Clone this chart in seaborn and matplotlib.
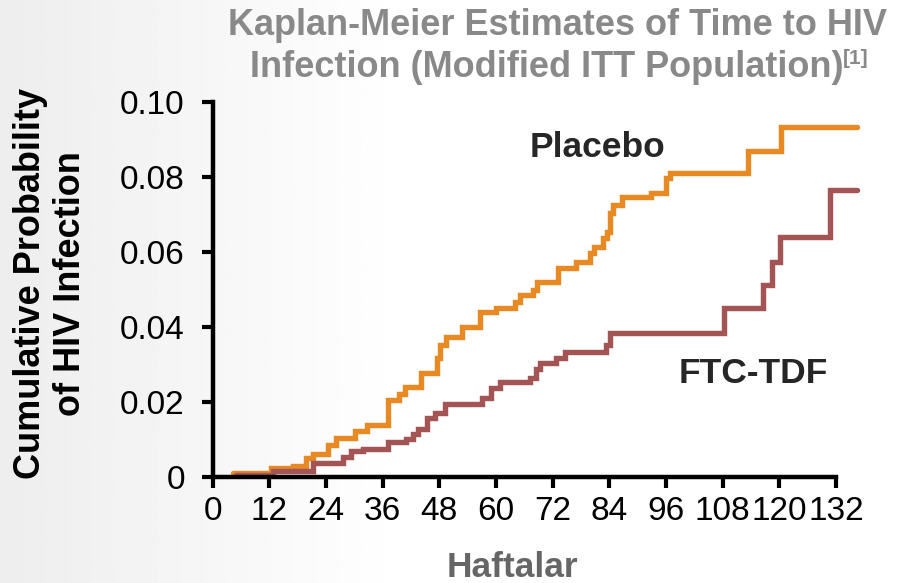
import numpy as np
import pandas as pd
import matplotlib
matplotlib.use("Agg")
import matplotlib.pyplot as plt
import seaborn as sns

# values (weeks, cumulative probability)
placebo_weeks = [4.3, 12.4, 17, 19.8, 21.3, 24.4, 26.2, 30.1, 32.6, 37.1,
                 39.5, 40.7, 44.2, 47.5, 48.1, 49.5, 52.7, 56.6, 60.1, 64,
                 65, 67.9, 68.7, 73.2, 76.9, 80, 80.7, 82.7, 83.4, 84.1,
                 84.8, 86.6, 92.9, 95.9, 96.8, 113.4, 120.3, 136.4]
placebo_prob = [0.001, 0.0023, 0.003, 0.005, 0.006, 0.0085, 0.0103, 0.0123, 0.0139, 0.0205,
                0.022, 0.024, 0.0277, 0.0316, 0.0352, 0.0374, 0.0399, 0.0441, 0.045, 0.0467,
                0.0485, 0.0499, 0.0521, 0.0558, 0.0574, 0.0596, 0.0614, 0.0636, 0.0654, 0.0703,
                0.0725, 0.0746, 0.0757, 0.0796, 0.0812, 0.087, 0.0934, 0.0934]

ftc_weeks = [4.9, 12.8, 21.3, 27.6, 29.4, 31.8, 37.1, 41, 42.4, 43.5,
             45.3, 47, 49.2, 57.1, 59, 60.8, 67.2, 68.4, 69.3, 72.7,
             74.6, 83.3, 84.1, 108.3, 116.6, 118.4, 120.1, 130.7, 136.4]
ftc_prob = [0.0005, 0.0017, 0.0038, 0.0054, 0.0068, 0.0074, 0.0092, 0.0101, 0.0114, 0.0127,
            0.0156, 0.017, 0.0195, 0.021, 0.0236, 0.0252, 0.0263, 0.0287, 0.0305, 0.0316,
            0.0334, 0.0352, 0.0385, 0.045, 0.0512, 0.0574, 0.0641, 0.0765, 0.0765]

x_ticks = list(range(0, 133, 12))
y_ticks = [0, 0.02, 0.04, 0.06, 0.08, 0.10]
y_tick_labels = ["0", "0.02", "0.04", "0.06", "0.08", "0.10"]

PLACEBO_COLOR = "#E88A24"
FTC_COLOR = "#A35556"
TITLE_GRAY = "#898989"

sns.set_theme(style="white")
plt.rcParams["font.family"] = ["Liberation Sans", "DejaVu Sans"]

df = pd.concat([
    pd.DataFrame({"week": placebo_weeks, "prob": placebo_prob, "group": "Placebo"}),
    pd.DataFrame({"week": ftc_weeks, "prob": ftc_prob, "group": "FTC-TDF"}),
])

fig = plt.figure(figsize=(9.01, 5.83), dpi=100)

# soft grey gradient on the left like the slide background
bg = fig.add_axes([0, 0, 1, 1], zorder=-10)
grad = np.clip(np.linspace(0, 1, 400) / 0.45, 0, 1)
shade = 0.93 + 0.07 * grad
bg.imshow(np.tile(shade, (10, 1)), cmap="gray", vmin=0, vmax=1, aspect="auto",
          extent=[0, 1, 0, 1])
bg.axis("off")

ax = fig.add_axes([0.236, 0.182, 0.715, 0.643])
ax.patch.set_alpha(0)

sns.lineplot(data=df, x="week", y="prob", hue="group",
             palette={"Placebo": PLACEBO_COLOR, "FTC-TDF": FTC_COLOR},
             drawstyle="steps-post", linewidth=3.9, legend=False, ax=ax)
for line in ax.lines:
    line.set_clip_on(False)
    line.set_solid_joinstyle("miter")

ax.set_xlim(0, 136.4)
ax.set_ylim(0, 0.10)
ax.set_xticks(x_ticks)
ax.set_yticks(y_ticks)
ax.set_yticklabels(y_tick_labels)
ax.tick_params(axis="both", direction="out", length=8, width=3, color="black",
               labelsize=24, labelcolor="black")
ax.tick_params(axis="x", pad=6, bottom=True)
ax.tick_params(axis="y", pad=12, left=True)

for side in ["top", "right"]:
    ax.spines[side].set_visible(False)
for side in ["left", "bottom"]:
    ax.spines[side].set_linewidth(3.2)
    ax.spines[side].set_color("black")
ax.spines["bottom"].set_bounds(0, 132)

ax.set_xlabel("Haftalar", fontsize=25.5, fontweight="bold", color="#666666")
ax.xaxis.label.set_va("center")
ax.xaxis.set_label_coords(0.466, -0.243)
ax.set_ylabel("")

fig.text(0.056, 0.513, "Cumulative Probability\nof HIV Infection", rotation=90,
         ha="center", va="center", multialignment="center", fontsize=26,
         fontweight="bold", color="black", linespacing=1.2)

ax.text(81.4, 0.088, "Placebo", fontsize=25.5, fontweight="bold", ha="center", va="center")
ax.text(114.4, 0.0277, "FTC-TDF", fontsize=25.5, fontweight="bold", ha="center", va="center")

fig.text(0.619, 0.957, "Kaplan-Meier Estimates of Time to HIV", ha="center", va="center",
         fontsize=26, fontweight="bold", color=TITLE_GRAY)
fig.text(0.936, 0.884, "Infection (Modified ITT Population)", ha="right", va="center",
         fontsize=26, fontweight="bold", color=TITLE_GRAY)
fig.text(0.936, 0.899, "[1]", ha="left", va="center",
         fontsize=15, fontweight="bold", color=TITLE_GRAY)

fig.savefig("out.png", dpi=100)
